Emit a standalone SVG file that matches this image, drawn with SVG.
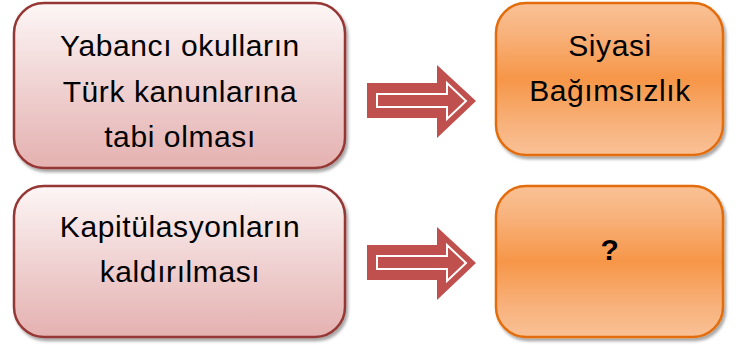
<svg xmlns="http://www.w3.org/2000/svg" width="736" height="345" viewBox="0 0 736 345">
<defs>
<linearGradient id="gRed" x1="0" y1="0" x2="0" y2="1">
<stop offset="0" stop-color="#fdf6f6"/>
<stop offset="0.5" stop-color="#f0d2d2"/>
<stop offset="1" stop-color="#e4b1b0"/>
</linearGradient>
<linearGradient id="gOr" x1="0" y1="0" x2="0" y2="1">
<stop offset="0" stop-color="#f9c196"/>
<stop offset="0.2" stop-color="#f8b27c"/>
<stop offset="0.5" stop-color="#f69648"/>
<stop offset="0.8" stop-color="#f8b27c"/>
<stop offset="1" stop-color="#f9c196"/>
</linearGradient>
<filter id="sh" x="-10%" y="-10%" width="125%" height="125%">
<feDropShadow dx="2" dy="3" stdDeviation="1.5" flood-color="#000" flood-opacity="0.35"/>
</filter>
<path id="arr" d="M367,83 H437 V65 L476,101 L437,138 V118 H367 Z"/>
<path id="arrIn" d="M377,94 H447 V83 L466,101 L447,119 V107 H377 Z"/>
</defs>
<style>
.red{fill:url(#gRed);stroke:#953735;stroke-width:2.5;filter:url(#sh)}
.or{fill:url(#gOr);stroke:#e36c0a;stroke-width:2.5;filter:url(#sh)}
.t{font-family:"Liberation Sans","DejaVu Sans",sans-serif;font-size:30px;letter-spacing:0.6px;fill:#000;text-anchor:middle}
.q{font-weight:bold;font-size:30px}
.a{fill:#c0504d}
.ai{fill:none;stroke:#fff;stroke-width:2}
</style>
<g id="n1">
<rect class="red" x="14" y="3" width="331" height="165" rx="30"/>
<text class="t" x="180" y="56">Yabancı okulların</text>
<text class="t" x="180" y="102">Türk kanunlarına</text>
<text class="t" x="180" y="147">tabi olması</text>
</g>
<g id="n2">
<rect class="or" x="496" y="3" width="227" height="152" rx="30"/>
<text class="t" x="610" y="56">Siyasi</text>
<text class="t" x="610" y="101">Bağımsızlık</text>
</g>
<g id="n3">
<rect class="red" x="14" y="186" width="331" height="151" rx="30"/>
<text class="t" x="180" y="237">Kapitülasyonların</text>
<text class="t" x="180" y="282">kaldırılması</text>
</g>
<g id="n4">
<rect class="or" x="496" y="186" width="227" height="151" rx="30"/>
<text class="t q" x="610" y="260">?</text>
</g>
<g id="connectors">
<use href="#arr" class="a"/>
<use href="#arrIn" class="ai"/>
<g transform="translate(0,162)">
<use href="#arr" class="a"/>
<use href="#arrIn" class="ai"/>
</g>
</g>
</svg>
